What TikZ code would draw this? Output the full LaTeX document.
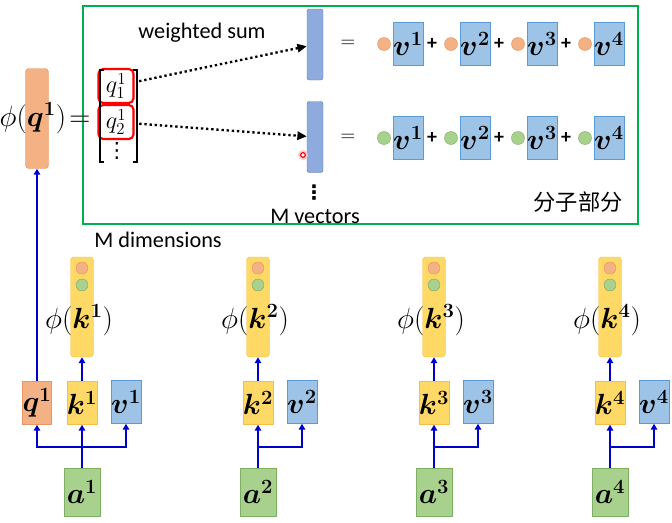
\documentclass[tikz,border=0pt]{standalone}
\usepackage{fontspec}
\usepackage{amsmath}
\usepackage{bm}
\setsansfont{Carlito}
\newfontfamily\cjkfont{Noto Sans CJK SC}
\newfontfamily\symfont{DejaVu Sans}
\usetikzlibrary{arrows.meta}
\definecolor{qfill}{HTML}{F4B183}
\definecolor{qline}{HTML}{E59866}
\definecolor{kfill}{HTML}{FFD966}
\definecolor{kline}{HTML}{F2C04A}
\definecolor{vfill}{HTML}{9DC3E6}
\definecolor{vline}{HTML}{5B9BD5}
\definecolor{barfill}{HTML}{8FAADC}
\definecolor{barline}{HTML}{5B7BC0}
\definecolor{afill}{HTML}{A9D18E}
\definecolor{aline}{HTML}{7FAF62}
\definecolor{flowblue}{HTML}{0000CC}
\definecolor{framegreen}{HTML}{00B050}
\begin{document}
\begin{tikzpicture}[x=0.03cm, y=-0.03cm,
	box/.style={draw, inner sep=0pt, minimum width=0.69cm, minimum height=1.29cm, font=\fontsize{23}{25}\selectfont},
	querybox/.style={box, fill=qfill, draw=qline},
	keybox/.style={box, fill=kfill, draw=kline},
	valuebox/.style={box, fill=vfill, draw=vline},
	inputbox/.style={box, fill=afill, draw=aline, minimum width=1.08cm, minimum height=1.44cm},
	featbox/.style={draw, rounded corners=3pt, inner sep=0pt, minimum width=0.69cm, minimum height=3cm},
	sumbar/.style={draw=barline, fill=barfill, rounded corners=2pt, inner sep=0pt, minimum width=0.48cm, minimum height=2.13cm},
	weight/.style={circle, draw, inner sep=0pt, minimum size=0.39cm},
	pick/.style={draw=red, line width=1.8pt, rounded corners=4pt, inner sep=0pt, minimum width=1.05cm, minimum height=1.02cm, font=\fontsize{22}{24}\selectfont},
	flow/.style={draw=flowblue, line width=1.6pt, -{Triangle[length=5pt,width=5.5pt]}},
	select/.style={line width=2pt, dash pattern=on 2pt off 2.4pt, -{Triangle[length=8pt,width=7pt]}},
	notetext/.style={font=\sffamily\fontsize{19}{21}\selectfont}]
	\useasboundingbox (0,0) rectangle (672,522);
	% numerator box
	\draw[framegreen, line width=1.3pt] (83,6) rectangle (638,224);
	\node[featbox, fill=qfill, draw=qline] (phiq) at (37,118.5) {};
	\node[font=\fontsize{27}{29}\selectfont] (phiqtext) at (45,118) {$\phi(\bm{q^1})\!=$};
	\node[pick] (q11) at (116,86) {$q^1_1$};
	\node[pick] (q21) at (116,122) {$q^1_2$};
	\node[font=\symfont\fontsize{18}{20}\selectfont, inner sep=0pt] (qdots) at (117,151) {⋮};
	\draw[line width=1pt] (104,70) -- (100,70) -- (100,162) -- (104,162);
	\draw[line width=1pt] (133,70) -- (137,70) -- (137,162) -- (133,162);
	\node[notetext] (wsum) at (202,33) {weighted sum};
	\node[sumbar] (bar1) at (315,44.5) {};
	\node[sumbar] (bar2) at (315,137) {};
	\draw[select, shorten <=4pt] (q11) -- (bar1);
	\draw[select, shorten <=4pt] (q21) -- (bar2);
	\fill[red!20] (303,155) circle (0.15cm);
	\draw[red, line width=1pt, fill=white] (303,155) circle (0.07cm);
	\node[font=\symfont\bfseries\fontsize{17}{19}\selectfont, inner sep=0pt] (mdots) at (314,193) {⋮};
	\node[notetext, inner sep=1pt] (mvec) at (315,216) {M vectors};
	\node[font=\cjkfont\fontsize{19}{21}\selectfont] (numer) at (578,202) {分子部分};
	\foreach \r/\y/\wf/\wl in {1/44/qfill/qline, 2/138/afill/aline} {
		\node[font=\fontsize{17}{19}\selectfont] (eq\r) at (348,\y) {$=$};
		\foreach \j in {1,...,4} {
			\pgfmathsetmacro\vx{408+67*(\j-1)}
			\node[weight, fill=\wf, draw=\wl] (w\r\j) at (\vx-24,\y) {};
			\node[valuebox] (v\r\j) at (\vx,\y) {$\bm{v^{\j}}$};
		}
		\foreach \j in {1,2,3} {
			\pgfmathsetmacro\px{432+67*(\j-1)}
			\node[font=\sffamily\bfseries\fontsize{17}{19}\selectfont] (plus\r\j) at (\px,\y) {+};
		}
	}
	% keys, values, queries
	\node[notetext] (mdim) at (158,240) {M dimensions};
	\node[querybox] (q1) at (37,403) {$\bm{q^1}$};
	\foreach \i in {1,...,4} {
		\pgfmathsetmacro\kx{82+176*(\i-1)}
		\node[featbox, fill=kfill, draw=kline] (phik\i) at (\kx,307) {};
		\node[weight, fill=qfill, draw=qline, minimum size=0.36cm] (wq\i) at (\kx,268) {};
		\node[weight, fill=afill, draw=aline, minimum size=0.36cm] (wg\i) at (\kx,285) {};
		\node[font=\fontsize{25}{27}\selectfont] (phiktext\i) at (\kx-3,320) {$\phi(\bm{k^{\i}})$};
		\node[keybox] (k\i) at (\kx,403) {$\bm{k^{\i}}$};
		\node[valuebox] (v\i) at (\kx+44,402) {$\bm{v^{\i}}$};
		\node[inputbox] (a\i) at (\kx,492) {$\bm{a^{\i}}$};
		\coordinate (split\i) at (\kx,447);
		\draw[flow] (k\i) -- (phik\i);
		\draw[flow] (a\i) -- (k\i);
		\draw[flow] (split\i) -| (v\i);
	}
	\draw[flow] (split1) -| (q1);
	\draw[flow] (q1) -- (phiq);
\end{tikzpicture}
\end{document}
